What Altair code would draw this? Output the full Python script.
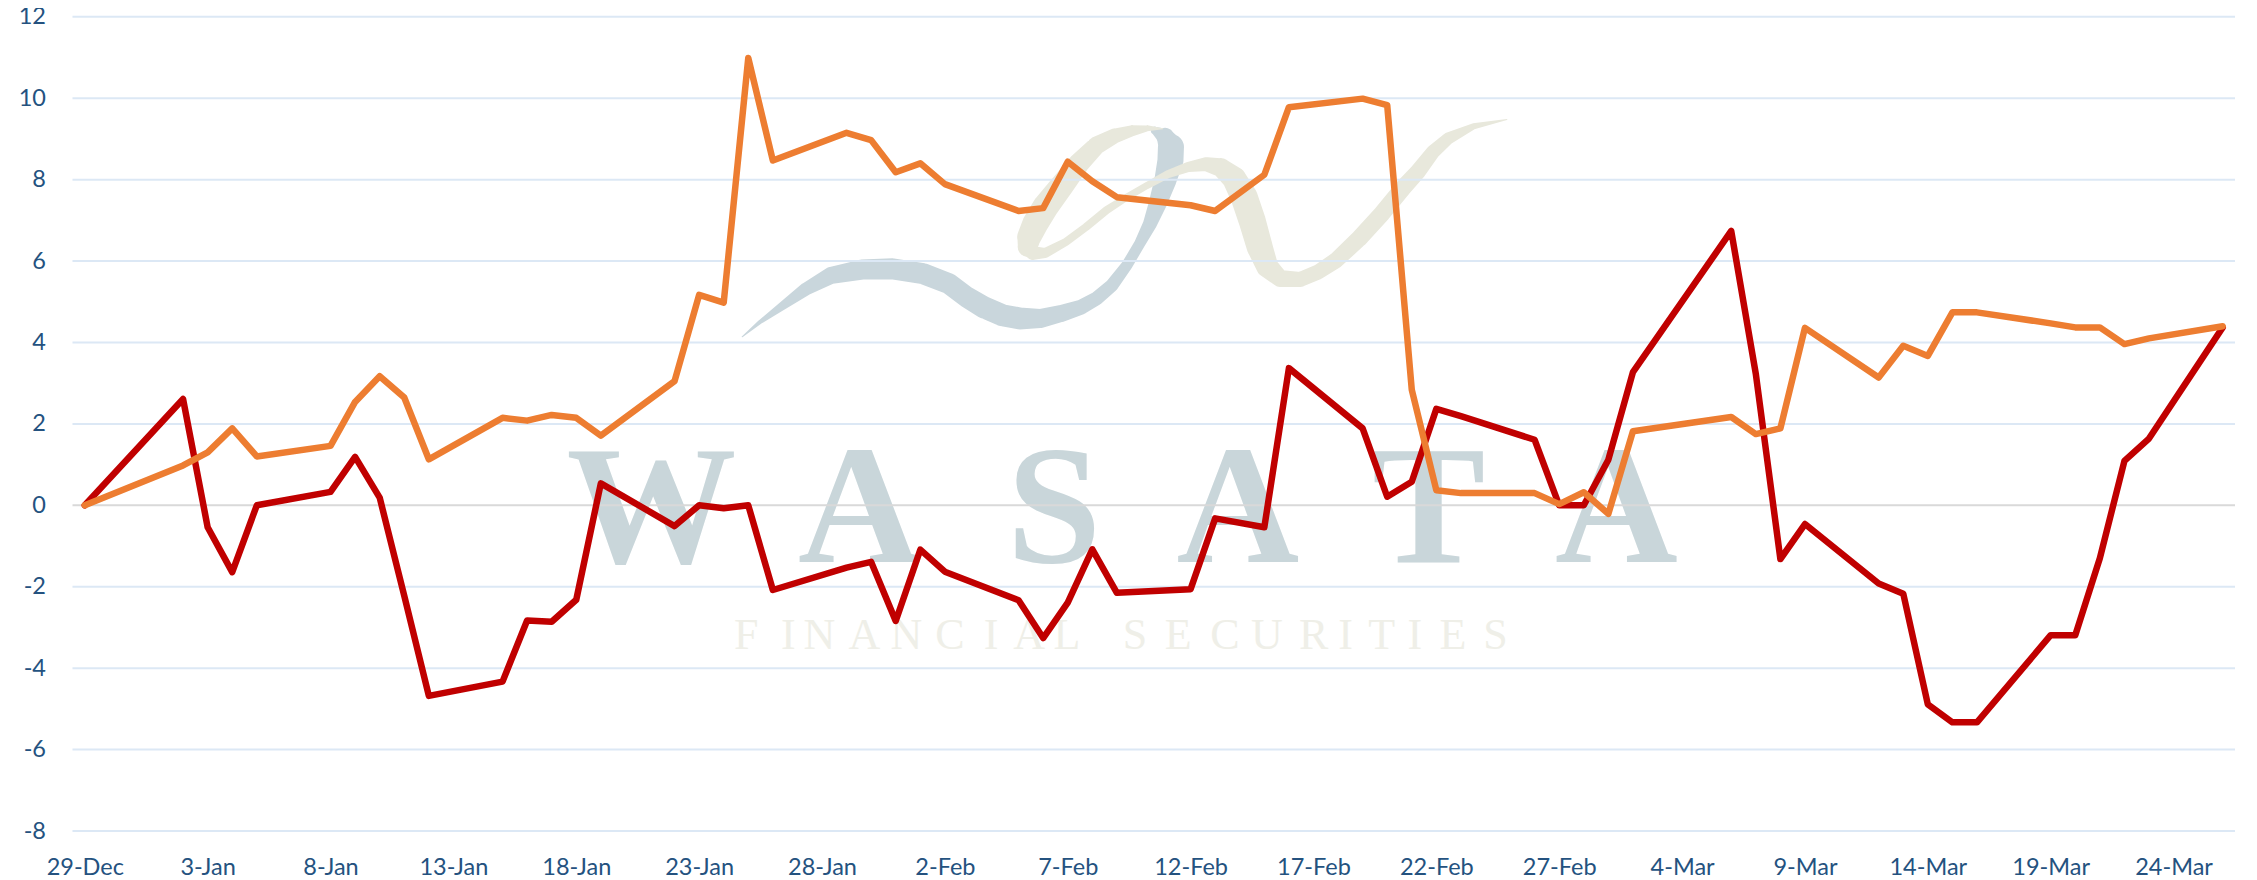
import altair as alt
import pandas as pd

# ---- axis content
tick_labels = ["29-Dec","3-Jan","8-Jan","13-Jan","18-Jan","23-Jan","28-Jan","2-Feb","7-Feb","12-Feb",
               "17-Feb","22-Feb","27-Feb","4-Mar","9-Mar","14-Mar","19-Mar","24-Mar"]
tick_days = [0,5,10,15,20,25,30,35,40,45,50,55,60,65,70,75,80,85]
y_ticks = [12,10,8,6,4,2,0,-2,-4,-6,-8]
grid_values = [12,10,8,6,4,2,-2,-4,-6,-8]
zero_value = [0]

# ---- series (day index since 29-Dec, value)
red_days = [0,4,5,6,7,10,11,12,13,14,17,18,19,20,21,24,25,26,27,28,31,32,33,34,35,38,39,40,41,42,45,46,
            48,49,52,53,54,55,56,59,60,61,62,63,67,68,69,70,73,74,75,76,77,80,81,82,83,84,87]
red_vals = [0,2.61,-0.54,-1.64,0,0.33,1.19,0.19,-2.22,-4.68,-4.33,-2.83,-2.86,-2.32,0.54,-0.51,0,-0.07,0,-2.08,
            -1.53,-1.39,-2.84,-1.09,-1.63,-2.33,-3.26,-2.39,-1.08,-2.15,-2.06,-0.32,-0.54,3.37,1.89,0.21,0.58,
            2.37,2.19,1.61,0,0,1.12,3.27,6.74,3.23,-1.32,-0.46,-1.92,-2.17,-4.89,-5.33,-5.33,-3.19,-3.19,-1.30,
            1.09,1.64,4.37]
orange_days = list(red_days)
orange_vals = [0,0.98,1.30,1.89,1.20,1.46,2.54,3.17,2.65,1.13,2.15,2.08,2.22,2.15,1.71,3.05,5.17,4.98,10.99,8.47,
               9.15,8.97,8.18,8.40,7.89,7.23,7.30,8.44,7.96,7.57,7.37,7.23,8.12,9.78,9.99,9.83,2.84,0.37,0.30,
               0.30,0.03,0.32,-0.21,1.82,2.17,1.75,1.89,4.36,3.14,3.92,3.67,4.74,4.74,4.47,4.37,4.37,3.96,4.10,4.40]

# ---- watermark, in the chart's own units
wm_big_text = ["W","A","S","A","T","A"]
wm_big_day = [23.06,31.52,39.44,46.92,54.69,62.33]
wm_big_val = [-1.40]*6
wm_small_text = list("FINANCIALSECURITIES")
wm_small_day = [26.92,28.63,29.89,31.72,33.43,35.21,36.88,38.43,39.97,42.74,44.49,46.40,48.10,50.01,51.31,52.78,54.12,55.67,57.41]
wm_small_val = [-3.54]*19
blue_day = [26.75,27.47,28.30,29.34,30.38,31.62,32.87,34.11,35.15,35.88,36.60,37.33,38.06,38.89,39.72,40.55,41.17,
            41.79,42.41,42.93,43.35,43.66,43.97,44.18,44.20,43.97,43.55]
blue_val = [4.14,4.50,4.86,5.31,5.65,5.79,5.81,5.69,5.45,5.12,4.86,4.67,4.59,4.59,4.71,4.87,5.08,5.40,5.90,6.43,
            6.92,7.41,7.98,8.48,8.80,9.05,9.20]
blue_w = [1,4,8,13,17,20,21,21,21,21,22,22,22,19,17,15,14,13,11,11,14,18,22,26,26,18,8]
beige_day = [43.87,43.24,42.62,41.89,41.17,40.44,39.72,39.09,38.68,38.43,38.37,38.57,39.09,39.92,40.75,41.58,42.41,
             43.24,44.07,44.90,45.63,46.25,46.77,47.18,47.50,47.81,48.12,48.64,49.47,50.19,50.92,51.85,52.79,53.62,
             54.24,54.86,55.48,56.52,57.87]
beige_val = [9.25,9.26,9.20,9.07,8.84,8.39,7.82,7.33,6.92,6.59,6.35,6.20,6.20,6.47,6.84,7.25,7.57,7.86,8.13,8.31,8.38,
             8.29,8.03,7.57,7.00,6.35,5.86,5.57,5.55,5.73,6.02,6.55,7.17,7.78,8.19,8.68,9.01,9.31,9.48]
beige_w = [1,6,11,15,18,21,24,26,26,24,20,14,10,8,8,8,7,7,8,10,14,19,24,27,27,26,22,17,15,15,16,17,17,17,16,14,12,6,1]

LABEL = "#24527F"
XDOM = [-0.5, 87.5]
YDOM = [-8, 12]
label_expr = "{" + ",".join(f"'{d}':'{t}'" for d, t in zip(tick_days, tick_labels)) + "}[datum.value]"

xs = alt.Scale(domain=XDOM, nice=False, zero=False)
ys = alt.Scale(domain=YDOM, nice=False, zero=False)
x_axis = alt.Axis(values=tick_days, labelExpr=label_expr, title=None, grid=False, domain=False, ticks=False,
                  labelColor=LABEL, labelFont="Lato", labelFontSize=23.5, labelPadding=24, labelOverlap=False,
                  labelFlush=False)
y_axis = alt.Axis(values=y_ticks, labelExpr="'' + datum.value", title=None, grid=False, domain=False, ticks=False,
                  labelColor=LABEL, labelFont="Lato", labelFontSize=23.5, labelPadding=27, labelOverlap=False)
X = alt.X("d:Q", scale=xs, axis=x_axis)
Y = alt.Y("v:Q", scale=ys, axis=y_axis)

def trail(days, vals, widths, color):
    df = pd.DataFrame({"d": days, "v": vals, "w": widths, "i": range(len(days))})
    return alt.Chart(df).mark_trail(color=color).encode(
        x=X, y=Y, order=alt.Order("i:Q"), size=alt.Size("w:Q", scale=None, legend=None))

def letters(text, days, vals, size, color, weight):
    df = pd.DataFrame({"t": text, "d": days, "v": vals})
    return alt.Chart(df).mark_text(font="Liberation Serif", fontSize=size, color=color, fontWeight=weight,
                                   baseline="alphabetic", align="center").encode(x=X, y=Y, text="t:N")

def series(days, vals, color):
    df = pd.DataFrame({"d": days, "v": vals})
    return alt.Chart(df).mark_line(color=color, strokeWidth=6.5, strokeCap="round", strokeJoin="round").encode(
        x=X, y=Y, order=alt.Order("d:Q"))

grid = alt.Chart(pd.DataFrame({"v": grid_values})).mark_rule(color="#DCE8F5", strokeWidth=2).encode(y=Y)
zero = alt.Chart(pd.DataFrame({"v": zero_value})).mark_rule(color="#D9D9D9", strokeWidth=2).encode(y=Y)

chart = alt.layer(
    trail(blue_day, blue_val, blue_w, "#C9D6DC"),
    trail(beige_day, beige_val, beige_w, "#E8E8DC"),
    letters(wm_big_text, wm_big_day, wm_big_val, 170, "#C9D6DA", "bold"),
    letters(wm_small_text, wm_small_day, wm_small_val, 44, "#EFEFE8", "normal"),
    grid,
    zero,
    series(red_days, red_vals, "#C00000"),
    series(orange_days, orange_vals, "#ED7D31"),
).properties(
    width=2162.5, height=814.2, background="white",
    autosize=alt.AutoSizeParams(type="none"),
    padding={"left": 64.5, "top": 8.8, "right": 10, "bottom": 48},
).configure_view(stroke=None)

chart.save("out.html", embed_options={"renderer": "svg", "actions": False})
